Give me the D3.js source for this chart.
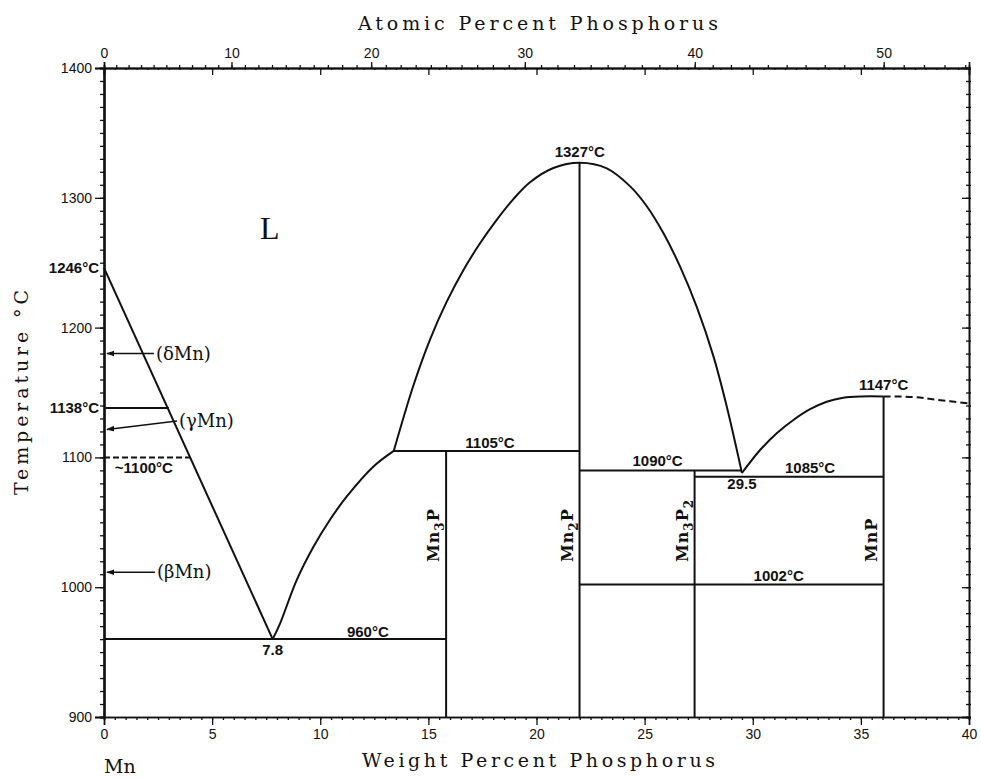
<!DOCTYPE html>
<html>
<head>
<meta charset="utf-8">
<script src="https://cdn.jsdelivr.net/npm/d3@7"></script>
<style>
  html, body { margin: 0; padding: 0; background: #fff; }
  svg { display: block; }
  .tick text { font-family: "Liberation Sans", Arial, sans-serif; font-size: 14px; fill: #111; }
  .lbl { font-family: "Liberation Sans", Arial, sans-serif; font-size: 15px; font-weight: bold; fill: #111; }
  .phase { font-family: "DejaVu Serif", serif; font-size: 18px; fill: #111; }
  .cmp { font-family: "DejaVu Serif", serif; font-size: 16px; font-weight: bold; fill: #111; letter-spacing: 1px; }
  .title { font-family: "DejaVu Serif", serif; font-size: 19px; fill: #111; }
</style>
</head>
<body>
<script>
// ---------- data ----------
const wtTicks = [0, 5, 10, 15, 20, 25, 30, 35, 40];
const atTicks = [0, 10, 20, 30, 40, 50];
const tempTicks = [900, 1000, 1100, 1200, 1300, 1400];

// liquidus from Mn side (straight)
const liquidusMn = [[0, 1246], [7.8, 960]];
// liquidus from eutectic 7.8 up to Mn3P peritectic
const liquidusMn3P = [[7.8, 960], [8.14, 972], [8.91, 1005.5], [9.68, 1031], [10.45, 1052], [11.22, 1069.7], [12.45, 1092.8], [13.4, 1105]];
// Mn2P liquidus dome
const domeMn2P = [[13.4, 1105], [14.3, 1155], [15.08, 1191], [15.85, 1220], [16.61, 1244], [17.39, 1265], [18.16, 1283],
  [18.93, 1299], [19.7, 1312], [20.78, 1323], [22.0, 1327], [23.25, 1322.7], [24.32, 1309], [25.1, 1293.5],
  [25.86, 1273], [26.64, 1247], [27.41, 1216], [28.18, 1178], [28.8, 1139], [29.5, 1088]];
// MnP liquidus
const liquidusMnP = [[29.5, 1088], [30.34, 1105.7], [31.11, 1118.6], [31.88, 1128.8], [32.65, 1137.1], [33.42, 1142.9],
  [34.19, 1146], [35.0, 1147], [36.05, 1147]];
const liquidusDashed = [[36.05, 1147], [37.43, 1146.5], [38.5, 1144.4], [40, 1141.6]];

// invariant isotherms: [temperature, from wt%, to wt%]
const isotherms = [[960, 0, 15.82], [1105, 13.4, 22.0], [1090, 22.0, 29.5], [1085, 27.31, 36.05], [1002, 22.0, 36.05], [1138, 0, 3.0]];
const dashedIsotherm = [[1100, 0, 3.98]];
// compounds: name pieces (text, is subscript), wt%, top temperature
const compounds = [
  { parts: [["Mn", 0], ["3", 1], ["P", 0]], wt: 15.82, top: 1105 },
  { parts: [["Mn", 0], ["2", 1], ["P", 0]], wt: 21.99, top: 1327 },
  { parts: [["Mn", 0], ["3", 1], ["P", 0], ["2", 1]], wt: 27.31, top: 1090 },
  { parts: [["MnP", 0]], wt: 36.05, top: 1147 }
];
// temperature labels: [text, wt%, temperature]
const tempLabels = [
  ["1327°C", 22.0, 1331.5], ["1105°C", 17.85, 1107.5], ["1090°C", 25.6, 1093], ["1085°C", 32.65, 1088],
  ["1147°C", 36.05, 1152], ["1002°C", 31.2, 1004.5], ["960°C", 12.2, 961.5],
  ["7.8", 7.8, 947.5], ["29.5", 29.5, 1075.5]
];
// allotrope arrows: [label, from wt, from T, to T]
const allotropes = [["(δMn)", 2.4, 1180, 1180], ["(γMn)", 3.47, 1128, 1121.5], ["(βMn)", 2.45, 1011.5, 1011.5]];

// ---------- setup ----------
const W = 981, H = 779;
const svg = d3.select("body").append("svg").attr("width", W).attr("height", H);

const x = d3.scaleLinear().domain([0, 40]).range([104, 969]);
const y = d3.scaleLinear().domain([900, 1400]).range([717, 68]);

const mP = 30.974, mMn = 54.938;
const at2wt = a => 100 * a * mP / (a * mP + (100 - a) * mMn);

// defs: arrowhead
svg.append("defs").append("marker")
  .attr("id", "ah").attr("viewBox", "0 0 10 10").attr("refX", 9).attr("refY", 5)
  .attr("markerWidth", 8).attr("markerHeight", 8).attr("orient", "auto-start-reverse")
  .attr("markerUnits", "userSpaceOnUse")
  .append("path").attr("d", "M0,1.5 L10,5 L0,8.5 Z").attr("fill", "#111");

// ---------- axes ----------
function styleAxis(g, sw) {
  g.select(".domain").attr("stroke", "#111").attr("stroke-width", sw);
  g.selectAll(".tick line").attr("stroke", "#111").attr("stroke-width", 1.3);
}
const wtMinor = d3.range(0, 40.01, 0.5);
const tMinor = d3.range(900, 1400.01, 10);
const atMinor = d3.range(0, 55, 1).filter(a => at2wt(a) <= 40);

// bottom
svg.append("g").attr("transform", `translate(0,${y(900)})`)
  .call(d3.axisBottom(x).tickValues(wtMinor).tickSize(3).tickFormat(""))
  .call(g => styleAxis(g, 1.6));
svg.append("g").attr("transform", `translate(0,${y(900)})`)
  .call(d3.axisBottom(x).tickValues(wtTicks).tickSize(8).tickPadding(4).tickFormat(d3.format("d")))
  .call(g => styleAxis(g, 1.6));
// top: wt% inward, at% outward
svg.append("g").attr("transform", `translate(0,${y(1400)})`)
  .call(d3.axisBottom(x).tickValues(wtTicks).tickSize(7).tickFormat(""))
  .call(g => styleAxis(g, 1.6));
svg.append("g").attr("transform", `translate(0,${y(1400)})`)
  .call(d3.axisBottom(x).tickValues(wtMinor).tickSize(2).tickFormat(""))
  .call(g => styleAxis(g, 1.6));
svg.append("g").attr("transform", `translate(0,${y(1400)})`)
  .call(d3.axisTop(x).tickValues(atMinor.map(at2wt)).tickSize(3).tickFormat(""))
  .call(g => styleAxis(g, 1.6));
svg.append("g").attr("transform", `translate(0,${y(1400)})`)
  .call(d3.axisTop(x).tickValues(atTicks.map(at2wt)).tickSize(6).tickPadding(4).tickFormat((d, i) => atTicks[i]))
  .call(g => styleAxis(g, 1.6));
// left
svg.append("g").attr("transform", `translate(${x(0)},0)`)
  .call(d3.axisLeft(y).tickValues(tMinor).tickSize(4).tickFormat(""))
  .call(g => styleAxis(g, 2.2));
svg.append("g").attr("transform", `translate(${x(0)},0)`)
  .call(d3.axisLeft(y).tickValues(tempTicks).tickSize(9).tickPadding(3).tickFormat(d3.format("d")))
  .call(g => styleAxis(g, 2.2));
// right
svg.append("g").attr("transform", `translate(${x(40)},0)`)
  .call(d3.axisLeft(y).tickValues(tMinor).tickSize(3).tickFormat(""))
  .call(g => styleAxis(g, 1.4));
svg.append("g").attr("transform", `translate(${x(40)},0)`)
  .call(d3.axisRight(y).tickValues(tMinor).tickSize(2).tickFormat(""))
  .call(g => styleAxis(g, 1.4));
svg.append("g").attr("transform", `translate(${x(40)},0)`)
  .call(d3.axisLeft(y).tickValues(tempTicks).tickSize(7).tickFormat(""))
  .call(g => styleAxis(g, 1.4));

// ---------- phase boundaries ----------
const lineLin = d3.line().x(d => x(d[0])).y(d => y(d[1]));
const lineCurve = d3.line().x(d => x(d[0])).y(d => y(d[1])).curve(d3.curveCatmullRom.alpha(0.5));
const plot = svg.append("g").attr("fill", "none").attr("stroke", "#111").attr("stroke-width", 2);

plot.append("path").attr("d", lineLin(liquidusMn));
plot.append("path").attr("d", lineCurve(liquidusMn3P));
plot.append("path").attr("d", lineCurve(domeMn2P));
plot.append("path").attr("d", lineCurve(liquidusMnP));
plot.append("path").attr("d", lineCurve(liquidusDashed)).attr("stroke-dasharray", "7,4");

isotherms.forEach(([t, a, b]) => {
  plot.append("line").attr("x1", x(a)).attr("x2", x(b)).attr("y1", y(t)).attr("y2", y(t));
});
dashedIsotherm.forEach(([t, a, b]) => {
  plot.append("line").attr("x1", x(a)).attr("x2", x(b)).attr("y1", y(t)).attr("y2", y(t))
    .attr("stroke-dasharray", "6,3");
});
compounds.forEach(c => {
  plot.append("line").attr("x1", x(c.wt)).attr("x2", x(c.wt)).attr("y1", y(900)).attr("y2", y(c.top));
});

// allotrope arrows
allotropes.forEach(([lab, w, t1, t2]) => {
  svg.append("line").attr("x1", x(w) - 2).attr("y1", y(t1)).attr("x2", x(0) + 3).attr("y2", y(t2))
    .attr("stroke", "#111").attr("stroke-width", 1.6).attr("marker-end", "url(#ah)");
  svg.append("text").attr("class", "phase").attr("x", x(w)).attr("y", y(t1) + 6).text(lab);
});

// ---------- labels ----------
tempLabels.forEach(([txt, w, t]) => {
  svg.append("text").attr("class", "lbl").attr("text-anchor", "middle")
    .attr("x", x(w)).attr("y", y(t)).text(txt);
});
svg.append("text").attr("class", "lbl").attr("text-anchor", "end").attr("x", x(0) - 5).attr("y", y(1246) + 5).text("1246°C");
svg.append("text").attr("class", "lbl").attr("text-anchor", "end").attr("x", x(0) - 5).attr("y", y(1138) + 5).text("1138°C");
svg.append("text").attr("class", "lbl").attr("x", x(0.5)).attr("y", y(1100) + 16).text("~1100°C");

svg.append("text").attr("x", 260).attr("y", 239)
  .attr("font-family", "Liberation Serif, serif").attr("font-size", 32).attr("fill", "#111").text("L");

compounds.forEach(c => {
  const t = svg.append("text").attr("class", "cmp")
    .attr("transform", `translate(${x(c.wt) - 7},562) rotate(-90)`);
  c.parts.forEach(([s, sub]) => {
    const ts = t.append("tspan").text(s);
    if (sub) ts.attr("font-size", 12).attr("dy", 5);
    else ts.attr("dy", t.selectAll("tspan").size() > 1 ? -5 : 0);
  });
});

// ---------- titles ----------
svg.append("text").attr("class", "title").attr("x", 358).attr("y", 30)
  .attr("textLength", 360).attr("lengthAdjust", "spacing").text("Atomic Percent Phosphorus");
svg.append("text").attr("class", "title").attr("x", 362).attr("y", 767)
  .attr("textLength", 353).attr("lengthAdjust", "spacing").text("Weight Percent Phosphorus");
svg.append("text").attr("class", "title")
  .attr("transform", "translate(28,495) rotate(-90)")
  .attr("textLength", 205).attr("lengthAdjust", "spacing").text("Temperature °C");
svg.append("text").attr("class", "title").attr("x", 104).attr("y", 773).text("Mn");
</script>
</body>
</html>
